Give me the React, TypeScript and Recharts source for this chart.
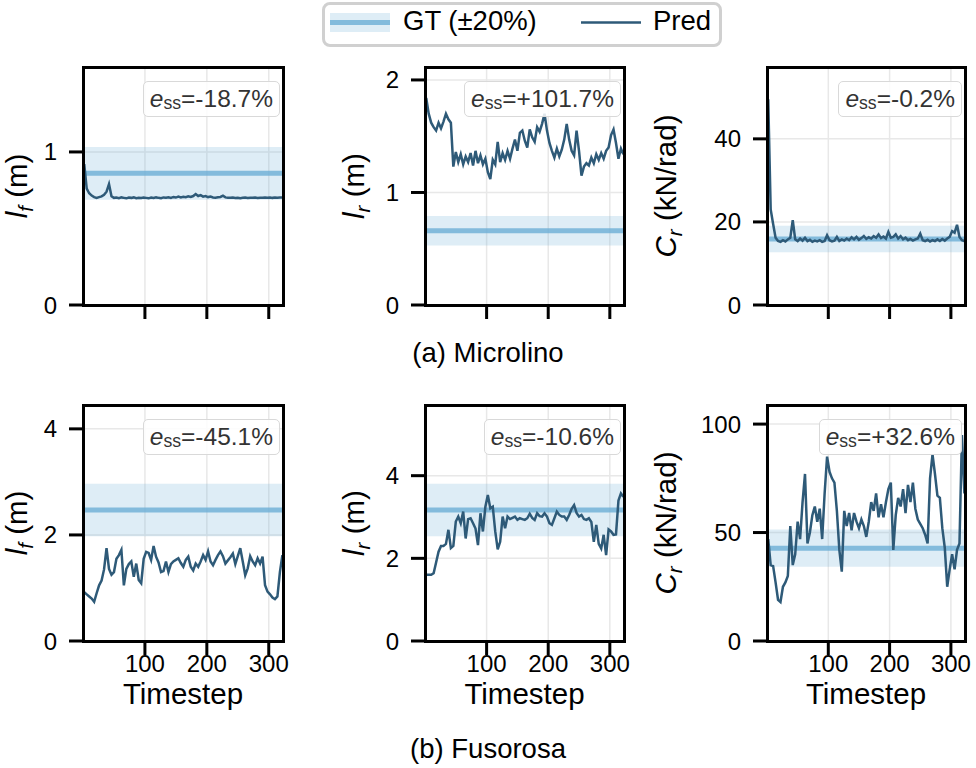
import React from 'react';
import {
  ComposedChart,
  Line,
  XAxis,
  YAxis,
  CartesianGrid,
  ReferenceArea,
  ReferenceLine,
  Label,
} from 'recharts';

// Timesteps shared by every run (sampled every 4 steps)
const TIMESTEPS = Array.from({ length: 81 }, (_, i) => 2 + 4 * i);
const X_TICKS = [100, 200, 300];

// (a) Microlino — predicted parameters
const MIC_LF = [
  0.92, 0.76, 0.73, 0.715, 0.705, 0.70, 0.705, 0.71, 0.72,
  0.74, 0.79, 0.71, 0.70, 0.702, 0.698, 0.703, 0.70, 0.697,
  0.702, 0.70, 0.703, 0.698, 0.701, 0.699, 0.702, 0.70, 0.697,
  0.702, 0.699, 0.703, 0.70, 0.698, 0.703, 0.701, 0.704, 0.70,
  0.706, 0.702, 0.708, 0.703, 0.707, 0.704, 0.71, 0.706, 0.712,
  0.725, 0.712, 0.718, 0.708, 0.712, 0.705, 0.708, 0.703, 0.701,
  0.704, 0.706, 0.714, 0.703, 0.701, 0.70, 0.702, 0.699, 0.701,
  0.698, 0.70, 0.702, 0.699, 0.701, 0.70, 0.702, 0.699, 0.701,
  0.70, 0.702, 0.701, 0.703, 0.70, 0.702, 0.701, 0.703, 0.702,
];
const MIC_LR = [
  1.84, 1.70, 1.62, 1.58, 1.55, 1.62, 1.57, 1.63, 1.70,
  1.65, 1.62, 1.23, 1.36, 1.27, 1.34, 1.25, 1.32, 1.27,
  1.35, 1.24, 1.37, 1.26, 1.33, 1.25, 1.30, 1.18, 1.12,
  1.29, 1.25, 1.45, 1.27, 1.35, 1.29, 1.37, 1.30, 1.39,
  1.47, 1.37, 1.53, 1.55, 1.46, 1.40, 1.56, 1.49, 1.45,
  1.58, 1.54, 1.61, 1.70, 1.55, 1.44, 1.37, 1.31, 1.39,
  1.32, 1.38, 1.47, 1.61, 1.47, 1.37, 1.33, 1.55, 1.37,
  1.15, 1.23, 1.26, 1.24, 1.31, 1.26, 1.34, 1.29, 1.35,
  1.30, 1.37, 1.40, 1.51, 1.56, 1.44, 1.30, 1.39, 1.34,
];
const MIC_CR = [
  49.5, 23.0, 19.5, 16.2, 15.4, 15.2, 15.6, 15.3, 15.8,
  16.2, 20.4, 15.8, 15.4, 16.0, 15.5, 16.2, 15.4, 15.7,
  15.2, 15.5, 15.3, 15.6, 15.2, 15.4, 16.8, 15.6, 15.3,
  15.5, 16.4, 15.4, 15.8, 15.5, 16.0, 15.6, 16.3, 15.8,
  16.4, 15.7, 16.1, 16.6, 15.9, 16.3, 16.0, 16.6, 16.2,
  17.0, 16.1, 16.5, 16.0, 17.6, 16.2, 16.4, 17.0, 16.0,
  16.6, 15.8, 16.2, 15.6, 15.9, 15.5, 15.8, 16.0, 17.2,
  15.6, 15.4, 15.7, 15.3, 15.6, 15.4, 15.8, 15.4, 15.9,
  15.5, 16.0, 16.4, 17.8, 17.4, 19.3, 16.4, 15.6, 15.4,
];

// (b) Fusorosa — predicted parameters
const FUS_LF = [
  0.92, 0.88, 0.84, 0.80, 0.74, 0.90, 1.05, 1.14, 1.35,
  1.75, 1.36, 1.25, 1.30, 1.55, 1.62, 1.72, 1.05, 1.36,
  1.45, 1.50, 1.21, 1.46, 1.15, 1.09, 1.55, 1.68, 1.66,
  1.53, 1.79, 1.59, 1.48, 1.30, 1.32, 1.50, 1.30, 1.45,
  1.50, 1.53, 1.56, 1.47, 1.40, 1.53, 1.59, 1.40, 1.33,
  1.46, 1.40, 1.50, 1.62, 1.53, 1.69, 1.50, 1.43, 1.53,
  1.62, 1.69, 1.60, 1.46, 1.52, 1.58, 1.65, 1.45, 1.60,
  1.75, 1.50, 1.24, 1.37, 1.60, 1.50, 1.43, 1.56, 1.46,
  1.59, 1.05, 0.93, 0.88, 0.82, 0.79, 0.84, 1.30, 1.62,
];
const FUS_LR = [
  1.60, 1.60, 1.60, 1.64, 1.90, 2.16, 2.30, 2.30, 2.35,
  2.69, 2.25, 2.30, 2.89, 3.01, 2.85, 3.13, 2.48, 2.95,
  2.97, 2.85, 2.72, 2.32, 3.09, 2.65, 3.25, 3.53, 3.21,
  3.25, 2.65, 2.22, 2.40, 3.01, 2.73, 3.01, 2.95, 2.98,
  3.01, 2.93, 2.97, 2.95, 2.93, 2.97, 3.08, 2.98, 2.93,
  3.09, 3.02, 3.01, 3.09, 3.01, 2.85, 2.81, 2.97, 3.13,
  3.05, 3.01, 3.01, 2.93, 3.05, 3.20, 3.29, 3.10, 3.01,
  3.05, 2.95, 2.93, 2.97, 2.88, 2.40, 2.81, 2.35, 2.24,
  2.57, 2.08, 2.70, 2.65, 2.57, 2.58, 3.40, 3.57, 3.49,
];
const FUS_CR = [
  47, 35, 34.5, 27, 19, 18, 25, 27, 30,
  53, 35, 40, 55, 47, 64, 77, 45, 50,
  58, 62, 55, 61, 47, 68, 85, 78, 75,
  73, 60, 42, 32, 60, 53, 59, 51, 59,
  55, 52, 56, 53, 48, 55, 64, 60, 68,
  57, 63, 57, 64, 70, 73, 42, 58, 66,
  62, 70, 59, 72, 64, 73, 61, 56, 54,
  52, 49, 45, 75, 86, 77, 67, 66, 52,
  43, 25, 33, 40, 33, 42, 45, 95, 68,
];

// Ground-truth values (band drawn at ±20%)
const MIC_LF_GT = 0.86;
const MIC_LR_GT = 0.66;
const MIC_CR_GT = 15.9;
const FUS_LF_GT = 2.47;
const FUS_LR_GT = 3.17;
const FUS_CR_GT = 42.8;

// Steady-state errors shown in each panel
const ESS_LABELS = ['-18.7%', '+101.7%', '-0.2%', '-45.1%', '-10.6%', '+32.6%'];
const GROUP_TITLES = ['(a) Microlino', '(b) Fusorosa'];

const FONT = '"Liberation Sans", Arial, Helvetica, sans-serif';
const PRED_COLOR = '#2e5a78';
const GT_COLOR = '#6baed6';
const TICK_FONT = 24;
const LABEL_FONT = 29.5;
const MT = 10;
const MR = 12;

type AxisTitle = { main: string; sub: string; rest: string };
const LF_TITLE: AxisTitle = { main: 'l', sub: 'f', rest: ' (m)' };
const LR_TITLE: AxisTitle = { main: 'l', sub: 'r', rest: ' (m)' };
const CR_TITLE: AxisTitle = { main: 'C', sub: 'r', rest: ' (kN/rad)' };

type Panel = {
  left: number;
  top: number;
  w: number;
  h: number;
  yw: number;
  labelOffset: number;
  values: number[];
  gt: number;
  yMax: number;
  yTicks: number[];
  title: AxisTitle;
  ess: string;
  bottom: boolean;
};

const PANELS: Panel[] = [
  { left: 83, top: 67, w: 200, h: 238, yw: 83, labelOffset: 56, values: MIC_LF, gt: MIC_LF_GT, yMax: 1.555, yTicks: [0, 1], title: LF_TITLE, ess: ESS_LABELS[0], bottom: false },
  { left: 425, top: 67, w: 199, h: 238, yw: 100, labelOffset: 61, values: MIC_LR, gt: MIC_LR_GT, yMax: 2.115, yTicks: [0, 1, 2], title: LR_TITLE, ess: ESS_LABELS[1], bottom: false },
  { left: 767, top: 67, w: 198, h: 238, yw: 120, labelOffset: 91, values: MIC_CR, gt: MIC_CR_GT, yMax: 57.3, yTicks: [0, 20, 40], title: CR_TITLE, ess: ESS_LABELS[2], bottom: false },
  { left: 83, top: 405, w: 200, h: 236, yw: 83, labelOffset: 56, values: FUS_LF, gt: FUS_LF_GT, yMax: 4.45, yTicks: [0, 2, 4], title: LF_TITLE, ess: ESS_LABELS[3], bottom: true },
  { left: 425, top: 405, w: 199, h: 236, yw: 100, labelOffset: 61, values: FUS_LR, gt: FUS_LR_GT, yMax: 5.71, yTicks: [0, 2, 4], title: LR_TITLE, ess: ESS_LABELS[4], bottom: true },
  { left: 767, top: 405, w: 198, h: 236, yw: 120, labelOffset: 91, values: FUS_CR, gt: FUS_CR_GT, yMax: 108.8, yTicks: [0, 50, 100], title: CR_TITLE, ess: ESS_LABELS[5], bottom: true },
];

function YTitle({ x, y, title }: { x: number; y: number; title: AxisTitle }) {
  const shift = LABEL_FONT * 0.22;
  return (
    <text
      x={x}
      y={y}
      transform={`rotate(-90 ${x} ${y})`}
      textAnchor="middle"
      fontFamily={FONT}
      fontSize={LABEL_FONT}
      fill="#000"
    >
      <tspan fontStyle="italic">{title.main}</tspan>
      <tspan fontStyle="italic" fontSize={LABEL_FONT * 0.7} dy={shift}>
        {title.sub}
      </tspan>
      <tspan dy={-shift}>{title.rest}</tspan>
    </text>
  );
}

function PanelChart({ p }: { p: Panel }) {
  const xh = p.bottom ? 80 : 20;
  const data = TIMESTEPS.map((t, i) => ({ t, v: p.values[i] }));
  const width = p.yw + p.w + MR;
  const height = MT + p.h + xh;
  return (
    <div style={{ position: 'absolute', left: p.left - p.yw, top: p.top - MT, width, height }}>
      <ComposedChart width={width} height={height} data={data} margin={{ top: MT, right: MR, bottom: 0, left: 0 }}>
        <CartesianGrid stroke="#e8e8e8" strokeWidth={1.5} />
        <XAxis
          dataKey="t"
          type="number"
          domain={[0, 323]}
          ticks={X_TICKS}
          allowDataOverflow
          height={xh}
          axisLine={false}
          tickSize={14}
          tickMargin={0}
          tickLine={{ stroke: '#000', strokeWidth: 3 }}
          tick={{ fontSize: TICK_FONT, fill: '#000', fontFamily: FONT }}
          tickFormatter={p.bottom ? (v: number) => String(v) : () => ''}
        >
          {p.bottom && (
            <Label
              content={() => (
                <text
                  x={p.yw + p.w / 2}
                  y={MT + p.h + 63}
                  textAnchor="middle"
                  fontFamily={FONT}
                  fontSize={LABEL_FONT}
                  fill="#000"
                >
                  Timestep
                </text>
              )}
            />
          )}
        </XAxis>
        <YAxis
          type="number"
          domain={[0, p.yMax]}
          ticks={p.yTicks}
          allowDataOverflow
          width={p.yw}
          axisLine={false}
          tickSize={14}
          tickMargin={12}
          tickLine={{ stroke: '#000', strokeWidth: 3 }}
          tick={{ fontSize: TICK_FONT, fill: '#000', fontFamily: FONT }}
        >
          <Label content={() => <YTitle x={p.yw - p.labelOffset} y={MT + p.h / 2} title={p.title} />} />
        </YAxis>
        <ReferenceArea y1={p.gt * 0.8} y2={p.gt * 1.2} fill={GT_COLOR} fillOpacity={0.22} stroke="none" />
        <ReferenceLine y={p.gt} stroke={GT_COLOR} strokeOpacity={0.8} strokeWidth={5} />
        <Line
          type="linear"
          dataKey="v"
          stroke={PRED_COLOR}
          strokeWidth={2.5}
          dot={false}
          activeDot={false}
          isAnimationActive={false}
        />
      </ComposedChart>
    </div>
  );
}

function Frame({ p }: { p: Panel }) {
  return (
    <div
      style={{
        position: 'absolute',
        left: p.left - 1.5,
        top: p.top - 1.5,
        width: p.w + 3,
        height: p.h + 3,
        border: '3px solid #000',
        boxSizing: 'border-box',
        pointerEvents: 'none',
      }}
    />
  );
}

function EssBox({ p }: { p: Panel }) {
  return (
    <div
      style={{
        position: 'absolute',
        right: 976 - (p.left + p.w - 3),
        top: p.top + 14,
        height: 36,
        boxSizing: 'border-box',
        padding: '0 6px',
        border: '1.5px solid #d9d9d9',
        borderRadius: 5,
        background: 'rgba(255,255,255,0.85)',
        display: 'flex',
        alignItems: 'center',
        fontFamily: FONT,
        fontSize: 24.5,
        color: '#333',
        whiteSpace: 'nowrap',
        lineHeight: 1,
      }}
    >
      <span style={{ fontStyle: 'italic' }}>e</span>
      <span style={{ fontSize: '0.72em', position: 'relative', top: '0.28em' }}>ss</span>
      <span>={p.ess}</span>
    </div>
  );
}

function Legend() {
  return (
    <div
      style={{
        position: 'absolute',
        left: 322,
        top: 2,
        width: 400,
        height: 45,
        boxSizing: 'border-box',
        border: '3px solid #d0d0d0',
        borderRadius: 8,
        background: '#fff',
        fontFamily: FONT,
        fontSize: 27.5,
        color: '#000',
      }}
    >
      <svg width={60} height={19} style={{ position: 'absolute', left: 5, top: 8 }}>
        <rect x={0} y={0} width={60} height={19} fill={GT_COLOR} fillOpacity={0.22} />
        <line x1={0} x2={60} y1={9.5} y2={9.5} stroke={GT_COLOR} strokeOpacity={0.8} strokeWidth={5} />
      </svg>
      <div style={{ position: 'absolute', left: 78, top: 2, lineHeight: '28px', whiteSpace: 'nowrap' }}>GT (±20%)</div>
      <svg width={60} height={19} style={{ position: 'absolute', left: 256, top: 8 }}>
        <line x1={0} x2={60} y1={9.5} y2={9.5} stroke={PRED_COLOR} strokeWidth={2.5} />
      </svg>
      <div style={{ position: 'absolute', left: 328, top: 2, lineHeight: '28px', whiteSpace: 'nowrap' }}>Pred</div>
    </div>
  );
}

export default function App() {
  return (
    <div style={{ position: 'absolute', left: 0, top: 0, width: 976, height: 768, background: '#fff', overflow: 'hidden' }}>
      {PANELS.map((p, i) => (
        <PanelChart key={`c${i}`} p={p} />
      ))}
      {PANELS.map((p, i) => (
        <Frame key={`f${i}`} p={p} />
      ))}
      {PANELS.map((p, i) => (
        <EssBox key={`e${i}`} p={p} />
      ))}
      <svg width={976} height={768} style={{ position: 'absolute', left: 0, top: 0, pointerEvents: 'none' }}>
        <text x={488} y={362} textAnchor="middle" fontFamily={FONT} fontSize={27.5} fill="#000">
          {GROUP_TITLES[0]}
        </text>
        <text x={488} y={758} textAnchor="middle" fontFamily={FONT} fontSize={27.5} fill="#000">
          {GROUP_TITLES[1]}
        </text>
      </svg>
      <Legend />
    </div>
  );
}
